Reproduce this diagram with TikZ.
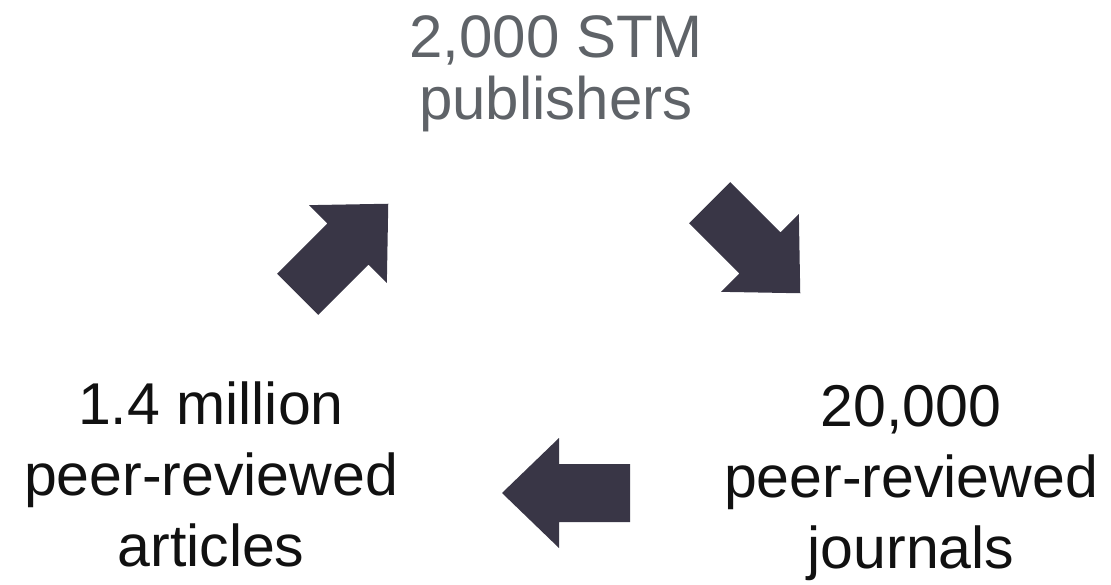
\documentclass[tikz,border=0pt]{standalone}
\usepackage{fontspec}
\setmainfont{Liberation Sans}
\definecolor{arrowcol}{HTML}{393646}
\definecolor{topgray}{HTML}{5F6368}
\definecolor{txtblack}{HTML}{111111}
\tikzset{
  label text/.style={inner sep=0pt, align=center, anchor=north},
  big/.style={font=\fontsize{59}{71}\selectfont, text=txtblack},
  topfont/.style={font=\fontsize{60}{62}\selectfont, text=topgray},
  blockarrow/.style={fill=arrowcol, draw=none}
}
\newcommand{\blockarrowshape}{(-64,-29) -- (7,-29) -- (7,-55) -- (64,0) -- (7,55) -- (7,29) -- (-64,29) -- cycle}
\begin{document}
\begin{tikzpicture}[x=1pt,y=-1pt]
\useasboundingbox (0,0) rectangle (1111,585);
\node[label text, topfont] (pub) at (556,15) {2,000 STM\\publishers};
\node[label text, big] (art) at (211,382) {1.4 million\\peer-reviewed\\articles};
\node[label text, big] (jou) at (911,385) {20,000\\peer-reviewed\\journals};
\begin{scope}[shift={(343,249)}, rotate=45]
  \fill[blockarrow] \blockarrowshape;
\end{scope}
\begin{scope}[shift={(755,248)}, rotate=-45]
  \fill[blockarrow] \blockarrowshape;
\end{scope}
\begin{scope}[shift={(566,493)}, rotate=180]
  \fill[blockarrow] \blockarrowshape;
\end{scope}
\end{tikzpicture}
\end{document}
